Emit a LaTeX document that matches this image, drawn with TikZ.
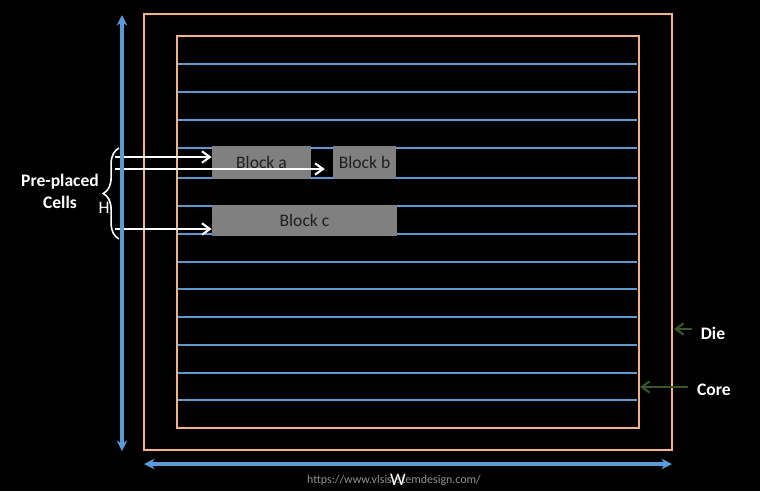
\documentclass[tikz,border=0pt]{standalone}
\usepackage{fontspec}
\setmainfont{Carlito}
\usepackage{xcolor}
\definecolor{dieorange}{RGB}{244,177,131}
\definecolor{rowblue}{RGB}{91,155,213}
\definecolor{blockgray}{RGB}{128,128,128}
\definecolor{pointgreen}{RGB}{56,87,35}
\usepackage{tikz}
\usetikzlibrary{arrows.meta, positioning, calc, decorations.pathreplacing}

\begin{document}
\begin{tikzpicture}[x=0.02cm, y=-0.02cm,
  outline/.style={draw=dieorange, line width=1.4pt},
  row/.style={rowblue, line width=1.3pt},
  blk/.style={rectangle, fill=blockgray, inner sep=0pt, font=\fontsize{10}{12}\selectfont,
              text=black!88},
  ptr/.style={-{Straight Barb[length=4.5pt,width=6.5pt]}, white, line width=1.2pt},
  dim/.style={{Stealth[length=6pt,width=6pt]}-{Stealth[length=6pt,width=6pt]}, rowblue, line width=1.9pt},
  tag/.style={-{Straight Barb[length=4.5pt,width=6.5pt]}, pointgreen, line width=1.2pt},
  lbl/.style={text=white, font=\fontsize{10}{12.5}\selectfont\bfseries, align=center}
]
  % Background
  \fill[black] (0,0) rectangle (760,491);
  \useasboundingbox (0,0) rectangle (760,491);

  % Die and core
  \draw[outline] (144,14) rectangle (672,450);
  \draw[outline] (177,36) rectangle (639,428);

  % Standard cell rows
  \foreach \ry in {64,92,120,148,178,206,234,262,289,317,345,373,400}
    \draw[row] (178,\ry) -- (637,\ry);

  % Pre-placed blocks
  \node[blk, minimum width=1.98cm, minimum height=0.66cm] (ba) at (261.5,162.5) {Block a};
  \node[blk, minimum width=1.26cm, minimum height=0.66cm] (bb) at (364.5,162.5) {Block b};
  \node[blk, minimum width=3.70cm, minimum height=0.62cm] (bc) at (304.5,220.5) {Block c};

  % Pointers from the brace
  \coordinate (p1) at (115,157);
  \coordinate (p2) at (115,169);
  \coordinate (p3) at (115,229);
  \draw[ptr] (p1) -- (p1 -| ba.west);
  \draw[ptr, shorten >=4.5pt] (p2) -- (p2 -| bb.west);
  \draw[ptr] (p3) -- (p3 -| bc.west);

  \coordinate (brb) at (119,239);
  \coordinate (brt) at (119,148);
  \draw[white, line width=0.9pt, decorate, decoration={brace, amplitude=9pt}] (brb) -- (brt);
  \node[lbl] (cells) at (60,191) {Pre-placed\\Cells};
  \node[text=white, font=\fontsize{10}{12}\selectfont] (hh) at (104,208) {H};

  % Dimensions
  \coordinate (hbot) at (122,451);
  \coordinate (htop) at (122,15);
  \draw[dim] (hbot) -- (htop);
  \coordinate (wl) at (144,464);
  \coordinate (wr) at (672,464);
  \draw[dim] (wl) -- (wr);
  \node[text=gray!85, font=\fontsize{6.8}{8}\selectfont] (url) at (394,480) {https://www.vlsisystemdesign.com/};
  \node[text=white, font=\fontsize{10}{12}\selectfont] (ww) at (398,480) {W};

  % Die and core labels
  \node[lbl] (die) at (713,333) {Die};
  \node[lbl] (core) at (714,390) {Core};
  \coordinate (dtip) at (674,329);
  \coordinate (ctip) at (640,387);
  \draw[tag] (die.west |- dtip) ++(-3,0) -- (dtip);
  \draw[tag] (core.west |- ctip) ++(-3,0) -- (ctip);
\end{tikzpicture}
\end{document}
